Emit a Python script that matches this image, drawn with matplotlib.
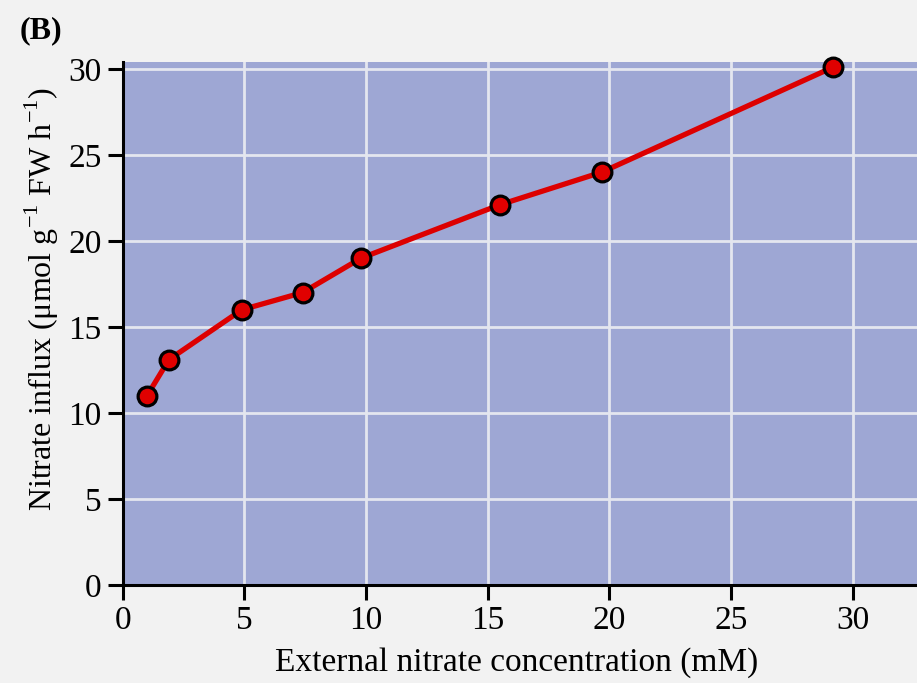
import matplotlib
matplotlib.use("Agg")
import matplotlib.pyplot as plt

# Data
conc_mM = [1.0, 1.9, 4.9, 7.4, 9.8, 15.5, 19.7, 29.2]
influx = [11.0, 13.1, 16.0, 17.0, 19.0, 22.1, 24.0, 30.1]
x_ticks = [0, 5, 10, 15, 20, 25, 30]
y_ticks = [0, 5, 10, 15, 20, 25, 30]

plt.rcParams['font.family'] = ['Liberation Serif', 'DejaVu Serif']
plt.rcParams['mathtext.fontset'] = 'custom'
plt.rcParams['mathtext.rm'] = 'Liberation Serif'

W, H = 917, 683
fig = plt.figure(figsize=(W / 100, H / 100), dpi=100)
fig.patch.set_facecolor('#f2f2f2')

left, right, top, bottom = 122.7, 917, 62, 585
ax = fig.add_axes([left / W, (H - bottom) / H, (right - left) / W, (bottom - top) / H])
ax.set_facecolor('#9ea7d4')

ax.set_xlim(0, 32.65)
ax.set_ylim(0, 30.4)
ax.set_xticks(x_ticks)
ax.set_yticks(y_ticks)

ax.grid(True, color='#e4e6ef', linewidth=2.0)
ax.set_axisbelow(True)

for s in ['top', 'right']:
    ax.spines[s].set_visible(False)
for s in ['left', 'bottom']:
    ax.spines[s].set_linewidth(2.2)
    ax.spines[s].set_color('black')

ax.tick_params(axis='both', direction='out', length=11, width=2.2,
               labelsize=24, color='black', pad=4)

ax.plot(conc_mM, influx, color='#dd0000', linewidth=3.8, marker='o',
        markersize=13.5, markerfacecolor='#e00000', markeredgecolor='black',
        markeredgewidth=2.3, clip_on=False, zorder=5)

ax.set_xlabel('External nitrate concentration (mM)', fontsize=24)
ax.set_ylabel(r'Nitrate influx (μmol g$^{\mathregular{-1}}$ FW h$^{\mathregular{-1}}$)',
              fontsize=23)
ax.xaxis.set_label_coords((517 - left) / (right - left), -(663 - bottom) / (bottom - top))
ax.xaxis.label.set_va('center')
ax.yaxis.set_label_coords(-(122.7 - 42) / (right - left), (bottom - 298.5) / (bottom - top))
ax.yaxis.label.set_va('center')

fig.text(20 / W, 1 - 31 / H, '(B)', fontsize=23, fontweight='bold', va='center', ha='left')

fig.savefig('out.png', dpi=100, facecolor=fig.get_facecolor())
